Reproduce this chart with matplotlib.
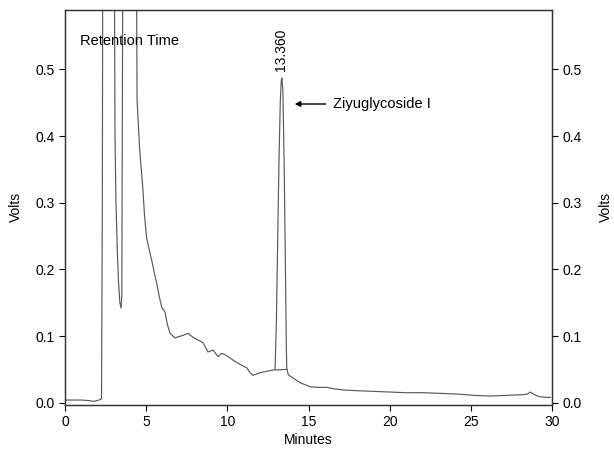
import matplotlib
matplotlib.use("Agg")
import matplotlib.pyplot as plt

plt.rcParams['font.family'] = ['Liberation Sans', 'DejaVu Sans']

# Chromatogram trace (minutes, volts)
time_min = [0.0, 0.5, 1.0, 1.5, 1.8, 2.1, 2.25, 2.3, 2.34, 2.45,
            3.0, 3.08, 3.14, 3.22, 3.3, 3.38, 3.45, 3.5, 3.54, 3.6,
            4.35, 4.44, 4.6, 4.8, 4.9, 5.03, 5.18, 5.34, 5.5, 5.65,
            5.8, 5.96, 6.16, 6.3, 6.47, 6.78, 7.0, 7.27, 7.58, 7.89,
            8.2, 8.5, 8.81, 9.12, 9.43, 9.65, 9.86, 10.17, 10.4, 10.6,
            10.9, 11.21, 11.4, 11.58, 12.02, 12.4, 12.82, 12.94, 13.02, 13.1,
            13.18, 13.26, 13.32, 13.36, 13.42, 13.5, 13.58, 13.63, 13.66, 13.75,
            14.05, 14.48, 15.1, 15.6, 16.14, 16.5, 17.2, 18.0, 19.0, 20.0,
            21.0, 22.06, 23.1, 24.15, 25.2, 26.2, 27.2, 28.2, 28.5, 28.65,
            28.8, 29.0, 29.27, 29.6, 29.9]
volts = [0.004, 0.004, 0.004, 0.003, 0.002, 0.004, 0.006, 0.3, 0.9, 0.95,
         0.95, 0.4, 0.3, 0.23, 0.18, 0.15, 0.142, 0.16, 0.5, 0.95,
         0.95, 0.454, 0.38, 0.32, 0.28, 0.247, 0.23, 0.214, 0.195, 0.179,
         0.16, 0.143, 0.136, 0.118, 0.104, 0.097, 0.099, 0.101, 0.104, 0.098,
         0.094, 0.090, 0.076, 0.079, 0.069, 0.074, 0.072, 0.067, 0.063, 0.060,
         0.056, 0.052, 0.045, 0.041, 0.045, 0.047, 0.049, 0.05, 0.12, 0.24,
         0.36, 0.45, 0.482, 0.487, 0.47, 0.36, 0.2, 0.09, 0.052, 0.042,
         0.037, 0.030, 0.024, 0.023, 0.023, 0.021, 0.019, 0.018, 0.017, 0.016,
         0.015, 0.015, 0.014, 0.013, 0.011, 0.010, 0.011, 0.012, 0.013, 0.016,
         0.014, 0.011, 0.009, 0.008, 0.008]

# Integration baseline under the main peak
base_t = [12.94, 13.66]
base_v = [0.049, 0.050]

x_ticks = [0, 5, 10, 15, 20, 25, 30]
y_ticks = [0.0, 0.1, 0.2, 0.3, 0.4, 0.5]
peak_time = 13.36
peak_label = "13.360"
compound = "Ziyuglycoside I"

fig = plt.figure(figsize=(6.14, 4.5), dpi=100)
ax = fig.add_axes([65/614, 1-404.5/450, (552-65)/614, (404.5-10)/450])

ax.plot(time_min, volts, color='#5a5a5a', lw=0.85)
ax.plot(base_t, base_v, color='#5a5a5a', lw=0.85)

ax.set_xlim(0, 30)
ax.set_ylim(-0.0027, 0.589)
ax.set_xticks(x_ticks)
ax.set_xticklabels([str(v) for v in x_ticks])
ax.set_yticks(y_ticks)
ax.set_yticklabels([f"{v:.1f}" for v in y_ticks])
ax.tick_params(direction='out', length=4, width=0.8, labelsize=10, colors='black')
for s in ax.spines.values():
    s.set_linewidth(0.9)
    s.set_color('#333333')

ax.set_xlabel("Minutes", fontsize=10, labelpad=3)
ax.set_ylabel("Volts", fontsize=10, labelpad=9)

ax2 = ax.twinx()
ax2.set_ylim(ax.get_ylim())
ax2.set_yticks(y_ticks)
ax2.set_yticklabels([f"{v:.1f}" for v in y_ticks])
ax2.tick_params(direction='out', length=4, width=0.8, labelsize=10)
ax2.set_ylabel("Volts", fontsize=10, labelpad=12)
for s in ax2.spines.values():
    s.set_linewidth(0.9)
    s.set_color('#333333')

ax.text(0.9, 0.542, "Retention Time", fontsize=10.5, ha='left', va='center')
ax.text(peak_time - 0.05, 0.498, peak_label, rotation=90, fontsize=10,
        ha='center', va='bottom')
ax.annotate("", xy=(14.15, 0.448), xytext=(16.05, 0.448),
            arrowprops=dict(arrowstyle='-|>', color='black', lw=1.0,
                            mutation_scale=8, shrinkA=0, shrinkB=0))
ax.text(16.5, 0.448, compound, fontsize=10.5, ha='left', va='center')

fig.savefig("out.png", dpi=100)
